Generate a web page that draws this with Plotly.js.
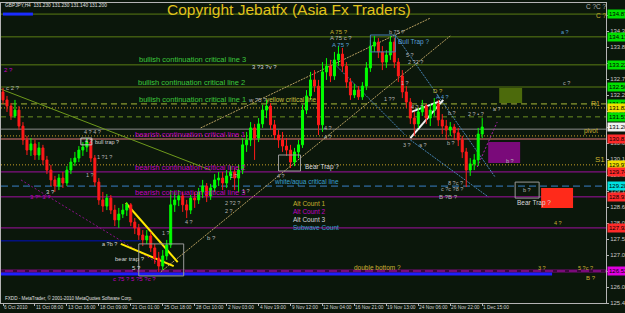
<!DOCTYPE html>
<html><head><meta charset="utf-8">
<script src="https://cdn.plot.ly/plotly-3.0.1.min.js"></script>
<style>html,body{margin:0;padding:0;background:#0b170b;}#chart{width:625px;height:313px;}</style>
</head><body><div id="chart"></div>
<script>
// ---------- DATA ----------
const symbolInfo = "GBPJPY,H4  131.230 131.230 131.140 131.200";
const copyrightText = "Copyright Jebatfx (Asia Fx Traders)";
const footerText = "FXDD - MetaTrader, \u00A9 2001-2010 MetaQuotes Software Corp.";

const open = [132.34,132.08,131.88,131.56,131.75,131.23,130.78,130.45,130.65,130.29,
130.52,130.13,129.80,129.48,129.28,129.54,129.38,129.80,130.06,130.19,
130.45,130.55,130.71,130.19,129.41,128.83,128.63,128.89,128.50,128.18,
128.37,128.50,128.67,128.11,127.92,127.69,127.53,127.66,127.27,126.94,
126.68,127.01,127.37,128.67,128.83,128.96,128.67,128.50,128.89,128.83,
129.09,129.28,128.96,129.22,129.48,129.54,129.38,129.61,129.74,129.54,
129.80,130.62,130.78,131.17,130.84,131.30,131.75,131.88,131.27,130.94,
130.78,130.58,130.45,130.06,130.39,130.62,131.75,132.21,132.73,132.53,
131.27,132.99,133.18,132.86,133.38,133.57,133.18,132.66,132.24,132.40,
132.18,132.53,133.12,133.83,133.96,133.64,133.31,133.54,133.96,133.31,
132.86,132.34,132.01,131.49,131.30,131.69,131.88,131.49,131.75,131.95,
131.43,131.23,131.10,131.20,131.01,130.78,130.39,129.80,130.00,130.13,
130.97];
const high = [132.47,132.21,131.98,132.08,131.88,131.36,130.91,130.84,130.78,130.71,
130.62,130.26,129.97,129.61,129.67,129.74,129.93,130.19,130.39,130.58,
130.71,130.84,130.84,130.29,129.54,129.09,129.02,128.99,128.67,128.57,
128.70,128.76,128.73,128.24,128.05,127.85,127.85,127.79,127.40,127.14,
127.20,127.53,129.15,129.09,129.15,129.09,128.83,128.99,129.09,129.22,
129.48,129.38,129.35,129.67,129.74,129.74,129.80,129.93,129.87,129.97,
130.84,131.04,131.36,131.30,131.49,131.92,132.08,131.98,131.43,131.10,
131.04,130.84,130.62,130.52,130.78,131.92,132.40,132.99,133.05,132.73,
133.31,133.44,133.38,133.64,133.83,133.77,133.31,132.79,132.60,132.53,
132.66,133.31,134.03,134.16,134.09,133.83,133.70,134.16,134.09,133.44,
133.05,132.53,132.14,131.69,131.82,132.08,131.95,131.95,132.14,132.08,
131.62,131.43,131.36,131.30,131.17,130.91,130.52,130.19,130.32,131.17,
131.49];
const low = [131.95,131.69,131.43,131.49,131.10,130.62,130.29,130.26,130.13,130.13,
129.97,129.67,129.28,129.09,129.15,129.22,129.28,129.67,129.93,130.06,
130.26,130.39,130.06,129.28,128.67,128.44,128.50,128.37,127.98,127.92,
128.24,128.31,127.98,127.72,127.53,127.33,127.40,127.14,126.75,126.49,
126.55,126.88,127.27,128.44,128.63,128.44,128.24,128.37,128.57,128.70,
128.89,128.76,128.83,129.09,129.28,129.15,129.22,129.48,129.15,129.09,
129.67,130.39,130.58,130.13,130.71,131.17,131.49,131.10,130.78,130.52,
130.39,130.26,129.87,129.93,130.19,130.52,131.62,132.08,132.34,130.94,
131.04,132.73,132.66,132.73,133.18,132.99,132.47,132.08,132.14,132.08,
132.08,132.40,132.99,133.64,133.44,133.05,133.12,133.38,133.12,132.66,
132.14,131.82,131.30,130.91,131.17,131.56,131.30,131.23,131.56,131.23,
130.97,130.78,130.91,130.78,130.58,130.19,129.25,129.61,129.80,129.93,
130.84];
const close = [132.08,131.88,131.56,131.75,131.23,130.78,130.45,130.65,130.29,130.52,
130.13,129.80,129.48,129.28,129.54,129.38,129.80,130.06,130.19,130.45,
130.55,130.71,130.19,129.41,128.83,128.63,128.89,128.50,128.18,128.37,
128.50,128.67,128.11,127.92,127.69,127.53,127.66,127.27,126.94,126.68,
127.01,127.37,128.67,128.83,128.96,128.67,128.50,128.89,128.83,129.09,
129.28,128.96,129.22,129.48,129.54,129.38,129.61,129.74,129.54,129.80,
130.62,130.78,131.17,130.84,131.30,131.75,131.88,131.27,130.94,130.78,
130.58,130.45,130.06,130.39,130.62,131.75,132.21,132.73,132.53,131.27,
132.99,133.18,132.86,133.38,133.57,133.18,132.66,132.24,132.40,132.18,
132.53,133.12,133.83,133.96,133.64,133.31,133.54,133.96,133.31,132.86,
132.34,132.01,131.49,131.30,131.69,131.88,131.49,131.75,131.95,131.43,
131.23,131.10,131.20,131.01,130.78,130.39,129.80,130.00,130.13,130.97,
131.20];

const dateLabels = ["6 Oct 2010","11 Oct 08:00","13 Oct 16:00","18 Oct 09:00","21 Oct 01:00","25 Oct 18:00","28 Oct 10:00","2 Nov 03:00","4 Nov 19:00","9 Nov 12:00","12 Nov 04:00","16 Nov 21:00","19 Nov 13:00","24 Nov 06:00","26 Nov 22:00","1 Dec 15:00"];
const dateLabelBars = [0,8,16,24,32,40,48,56,64,72,80,88,96,104,112,120];
const priceTicks = [125.48,126.00,126.52,127.04,127.56,128.08,128.60,129.12,129.64,130.16,130.68,131.20,131.72,132.24,132.76,133.28,133.80,134.32,134.84];

// horizontal levels (full width)
const levelPrices = [134.87,134.13,133.22,132.50,131.95,131.82,131.53,131.13,130.91,130.81,129.97,129.74,129.28,128.93,127.92];
const levelKinds  = ["olive","olive","olive","olive","ygDash","goldDot","oliveDash","pivot","goldDot","salmon","goldDot","purple","aquaDash","purple","purple"];

// partial horizontal segments: [startBar, endBar, price]
const blueTopSeg = [0, 7.5, 134.87];
const blueMidSeg = [-0.5, 34.5, 127.50];
const blueBottomSeg = [-0.5, 137.5, 126.42];
const doubleBottomLevel = 126.52;

// axis price tags
const tagPrices = [134.87,134.13,133.22,132.50,131.95,131.82,131.53,131.20,130.81,129.97,129.74,129.28,128.93,127.92,126.52];
const tagKinds  = ["g","g","g","g","g","y","g","w","r","y","r","c","r","r","m"];

// trend lines: [bar0, price0, bar1, price1]
const yellowLines = [[30.75,128.73,43.75,126.81],[29.5,127.40,42.75,126.68]];
const tanLines = [[39.5,126.49,112,134.16],[49.5,131.17,107,134.74]];
const blueLines = [[98.25,134.19,123.25,129.57],[102,130.78,121.5,128.93],[82,133.38,100.75,130.94]];
const magentaLines = [[118.75,129.90,123.75,131.36]];
const oliveLines = [[-0.5,132.43,52,129.80]];
const purpleLines = [[4.5,129.48,39.5,126.72]];
const whiteLines = [[102,130.84,110.25,132.08],[102.25,131.69,109.5,132.04]];

// zones: [bar0, bar1, priceLow, priceHigh]
const filledZones = [[124.25,130,131.98,132.47],[121.5,129.5,130.03,130.71],[134.75,142.75,128.57,129.22]];
const filledKinds = ["olive","purple","red"];
const boxZones = [[128.25,134.25,128.89,129.41],[92,98.25,133.64,134.19],[69,74.5,129.77,130.29],[19.5,22.25,130.62,130.84],[34,45.25,126.36,127.40]];
const boxKinds = ["grey","steel","grey","white","grey"];

// text labels: [text, bar, price, kind, size]
const chartTexts = [
 ["bullish continuation critical line 3",33.75,133.38,"green",7.5],
 ["bullish continuation critical line 2",33.5,132.66,"green",7.5],
 ["bullish continuation critical line 1",33.75,132.11,"green",7.5],
 ["bearish continuation critical line 1",32.75,130.97,"magenta",7.5],
 ["bearish continuation critical line 2",32.75,129.90,"magenta",7.5],
 ["bearish continuation critical line 3",32.75,129.06,"magenta",7.5],
 ["w ?5 ?",61,132.08,"grey",6],
 ["yellow critical line",65.5,132.08,"yellow",6.5],
 ["white/aqua critical line",67.5,129.41,"aqua",6.5],
 ["Bear Trap ?",75.25,129.90,"white",6.5],
 ["Bull Trap ?",98.75,133.96,"steel",6.5],
 ["bull trap ?",22.75,130.71,"white",5.5],
 ["bear trap ?",27.75,126.91,"white",6],
 ["Bear Trap ?",128.5,128.73,"white",6.5],
 ["Alt Count 1",72.25,128.73,"gold",6.5],
 ["Alt Count 2",72.25,128.47,"magenta",6.5],
 ["Alt Count 3",72.25,128.21,"white",6.5],
 ["Subwave Count",72.25,127.95,"aqua",6.5],
 ["double bottom ?",87.75,126.62,"gold",6.5],
 ["R1",147,131.95,"gold",7],
 ["pivot",145.25,131.07,"gold",6.5],
 ["S1",148,130.13,"gold",8],
 ["C ?C ?",145.75,135.13,"grey",6.5],
 ["C ?",148.25,134.84,"gold",6.5],
 ["2 ?",0,133.05,"magenta",6],
 ["c 2 ?",0.5,132.47,"grey",6],
 ["3 ?\u207F 3 ?",6.5,128.93,"magenta",6],
 ["3 ?",10.5,129.09,"white",6],
 ["4 ? 4 ?",20,131.04,"grey",5.5],
 ["4 ?",20.25,130.75,"white",5.5],
 ["1 ?1 ?",23.25,130.23,"grey",5.5],
 ["1 ?",20.5,129.64,"grey",5.5],
 ["a ?b ?",24.5,127.40,"white",5.5],
 ["5 ?",32,126.62,"white",6],
 ["c 75 ? 5 ?5 ?c ?",27.25,126.26,"magenta",6],
 ["1 ?",39.5,127.75,"grey",5.5],
 ["4 ?",45.25,128.11,"grey",5.5],
 ["b ?",50.75,127.59,"grey",6],
 ["2 ?2 ?",55.25,128.73,"grey",5.5],
 ["2 ?",55.25,128.47,"grey",5.5],
 ["1 ?",56.5,129.61,"grey",5.5],
 ["1 ?",59.5,129.12,"grey",5.5],
 ["4 ?",68.25,129.61,"grey",5.5],
 ["3 ?3 ?v ?",62,133.15,"white",6],
 ["4 ?",80.25,131.17,"grey",5.5],
 ["4 ?",80.25,130.88,"grey",5.5],
 ["A 75 ?",81.75,134.29,"gold",6],
 ["A 75 c ?",81.75,134.09,"grey",6],
 ["A 75 ?",82.25,133.87,"steel",6],
 ["b 75 ?",96.5,134.29,"grey",5.5],
 ["5 ?",100.75,133.54,"grey",5.5],
 ["2 ?2 ?",101.25,133.31,"grey",5.5],
 ["1 ?",99.5,132.63,"grey",5.5],
 ["1 ??",95.25,132.11,"grey",5.5],
 ["D ?",107.5,132.37,"gold",6],
 ["A 4 ?",108.25,132.18,"steel",5.5],
 ["4 2 ?",102,131.85,"grey",5.5],
 ["b ?",111.25,131.65,"grey",5.5],
 ["a ?",104,130.62,"grey",5.5],
 ["b ?",111,130.68,"grey",5.5],
 ["3 ?",100,130.62,"grey",5.5],
 ["2 ? \u2022 ?",116.25,131.62,"grey",5.5],
 ["a ?",122.5,131.78,"grey",5.5],
 ["b ?",125.75,130.10,"grey",5.5],
 ["8 ?c ?",111.25,129.38,"grey",5.5],
 ["c ?c ?8 ?",109.5,129.19,"grey",5.5],
 ["B ?B ?",109,128.93,"grey",6],
 ["b ?",130,129.15,"grey",5.5],
 ["4 ?",137.75,128.08,"gold",5.5],
 ["3 ?",133.75,126.62,"gold",5.5],
 ["5 ?c ?",143.75,126.62,"gold",5.5],
 ["B ?",145.75,126.29,"gold",6],
 ["a ?",139.5,134.29,"steel",5.5],
 ["c ?",140,132.63,"grey",5.5]
];

// ---------- STYLES ----------
const BG = "#0b170b";
const FONT = "Liberation Sans, Arial, sans-serif";
const lineStyles = {
  olive:{color:"#5b7d14",width:1,dash:"solid"},
  ygDash:{color:"#a9b836",width:1,dash:"6px,4px"},
  goldDot:{color:"#c8a028",width:1,dash:"1px,2px"},
  oliveDash:{color:"#6b8e23",width:1,dash:"5px,4px"},
  pivot:{color:"#8c8c8c",width:1,dash:"solid"},
  salmon:{color:"#e07878",width:1,dash:"solid"},
  purple:{color:"#a010a0",width:1,dash:"solid"},
  aquaDash:{color:"#3a80c8",width:1,dash:"7px,4px"}
};
const tagColors = {g:"#00e000",y:"#f0e000",w:"#f0f0f0",r:"#ff2a2a",c:"#00e0e0",m:"#e000e0"};
const textColors = {green:"#3cc83c",magenta:"#c000c0",grey:"#b4b4b4",white:"#d8d8d8",yellow:"#c8c040",aqua:"#3aa0d0",steel:"#5aa0d8",gold:"#c8b030"};
const fillColors = {olive:"#4c6a0c",purple:"#7a0a7a",red:"#ff2a1a"};
const boxColors = {grey:"#9a9a9a",steel:"#4682b4",white:"#c8c8c8"};

// ---------- BUILD ----------
const bars = open.map((_, i) => i);
const trace = {
  type:"candlestick", x:bars, open:open, high:high, low:low, close:close,
  increasing:{line:{color:"#00ff00",width:1},fillcolor:"#00ff00"},
  decreasing:{line:{color:"#ff1a1a",width:1},fillcolor:"#ff1a1a"},
  whiskerwidth:0, hoverinfo:"skip", showlegend:false
};

const shapes = [];
levelPrices.forEach((p, i) => {
  const s = lineStyles[levelKinds[i]];
  shapes.push({type:"line",xref:"paper",yref:"y",x0:0,x1:1,y0:p,y1:p,line:s,layer:"below"});
});
function seg(a, color, width, dash){
  shapes.push({type:"line",xref:"x",yref:"y",x0:a[0],x1:a[1],y0:a[2],y1:a[2],line:{color,width,dash:dash||"solid"},layer:"below"});
}
shapes.push({type:"line",xref:"paper",yref:"y",x0:0,x1:1,y0:doubleBottomLevel,y1:doubleBottomLevel,line:{color:"#7a0a7a",width:3},layer:"below"});
shapes.push({type:"line",xref:"paper",yref:"y",x0:0,x1:1,y0:doubleBottomLevel,y1:doubleBottomLevel,line:{color:"#000000",width:1,dash:"4px,8px"},layer:"below"});
seg(blueTopSeg,"#1a2cff",3);
seg(blueMidSeg,"#0010c0",1);
seg(blueBottomSeg,"#1e1eff",3);

function lines(list, color, width, dash){
  list.forEach(l => shapes.push({type:"line",xref:"x",yref:"y",x0:l[0],y0:l[1],x1:l[2],y1:l[3],line:{color,width,dash},layer:"below"}));
}
lines(oliveLines,"#6f9a1c",1,"solid");
lines(purpleLines,"#8a108a",1,"2px,2px");
lines(tanLines,"#b8a060",1,"2px,1px");
lines(blueLines,"#4682b4",1,"2px,1px");
lines(magentaLines,"#b020b0",1,"2px,2px");
lines(yellowLines,"#ffe800",2,"solid");
lines(whiteLines,"#f0f0f0",2,"solid");

filledZones.forEach((z, i) => shapes.push({type:"rect",xref:"x",yref:"y",x0:z[0],x1:z[1],y0:z[2],y1:z[3],fillcolor:fillColors[filledKinds[i]],line:{width:0},layer:"below"}));
boxZones.forEach((z, i) => shapes.push({type:"rect",xref:"x",yref:"y",x0:z[0],x1:z[1],y0:z[2],y1:z[3],fillcolor:"rgba(0,0,0,0)",line:{color:boxColors[boxKinds[i]],width:1},layer:"above"}));

const annotations = [];
chartTexts.forEach(t => annotations.push({
  text:t[0], x:t[1], y:t[2], xref:"x", yref:"y", xanchor:"left", yanchor:"middle",
  showarrow:false, font:{family:FONT,size:t[4],color:textColors[t[3]]}, borderpad:0
}));
dateLabels.forEach((d, i) => annotations.push({
  text:d, x:dateLabelBars[i], y:0, xref:"x", yref:"paper", xanchor:"left", yanchor:"top",
  yshift:-1, showarrow:false, font:{family:FONT,size:4.8,color:"#d0d0d0"}, borderpad:0
}));
tagPrices.forEach((p, i) => annotations.push({
  text:p.toFixed(3), x:1, y:p, xref:"paper", yref:"y", xanchor:"left", yanchor:"middle",
  xshift:1, showarrow:false, bgcolor:tagColors[tagKinds[i]], borderpad:1,
  font:{family:FONT,size:6,color:"#000000"}
}));
annotations.push({text:copyrightText,x:0.271,y:0.977,xref:"paper",yref:"paper",xanchor:"left",yanchor:"middle",showarrow:false,font:{family:FONT,size:15.5,color:"#e0c21c"}});
annotations.push({text:symbolInfo,x:0.003,y:0.993,xref:"paper",yref:"paper",xanchor:"left",yanchor:"middle",showarrow:false,font:{family:FONT,size:4.8,color:"#e0e0e0"}});
annotations.push({text:footerText,x:0.003,y:0.017,xref:"paper",yref:"paper",xanchor:"left",yanchor:"middle",showarrow:false,font:{family:FONT,size:4.6,color:"#e0e0e0"}});

const layout = {
  width:625, height:313,
  margin:{l:1,r:19,t:3,b:10,pad:0},
  paper_bgcolor:BG, plot_bgcolor:BG,
  showlegend:false,
  xaxis:{range:[-0.5,151],showgrid:false,zeroline:false,showline:true,linecolor:"#b4b4b4",linewidth:1,mirror:true,
    tickvals:dateLabelBars,showticklabels:false,ticks:"outside",ticklen:2,tickcolor:"#b4b4b4",
    rangeslider:{visible:false},fixedrange:true},
  yaxis:{range:[125.48,135.23],side:"right",showgrid:false,zeroline:false,showline:true,linecolor:"#b4b4b4",linewidth:1,mirror:true,
    tickvals:priceTicks,ticktext:priceTicks.map(v=>v.toFixed(3)),ticks:"outside",ticklen:2,tickcolor:"#b4b4b4",
    tickfont:{family:FONT,size:6,color:"#c8c8c8"},fixedrange:true},
  shapes:shapes, annotations:annotations
};
Plotly.newPlot("chart",[trace],layout,{displayModeBar:false,staticPlot:true});
</script></body></html>
